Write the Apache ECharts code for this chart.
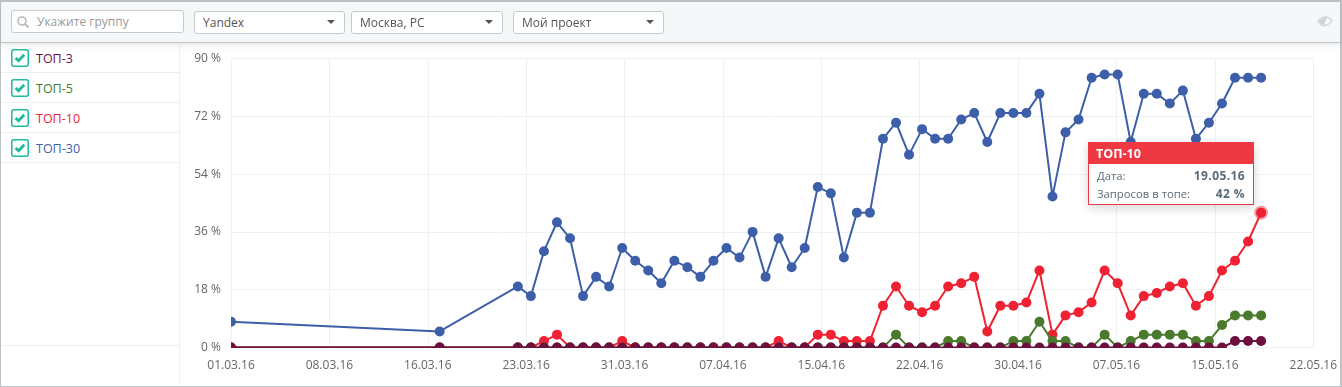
<!DOCTYPE html>
<html>
<head>
<meta charset="utf-8">
<title>ТОП</title>
<script src="https://cdn.jsdelivr.net/npm/echarts@6/dist/echarts.min.js"></script>
<style>
html, body { margin: 0; padding: 0; background: #fff; }
body { width: 1342px; height: 387px; overflow: hidden; font-family: "Open Sans", sans-serif; font-size: 12px; color: #555; }
.frame { position: absolute; left: 0; top: 0; width: 1342px; height: 387px; box-sizing: border-box; border: solid #bcc2c6; border-width: 2px 2px 1px 1px; }
.toolbar { position: absolute; left: 1px; top: 2px; width: 1339px; height: 40px; background: #f5f8f9; border-bottom: 1px solid #bfc5c8; box-shadow: 0 2px 6px rgba(0,0,0,.10); z-index: 2; }
.field { position: absolute; top: 9px; height: 21px; background: #fff; border: 1px solid #c6cbce; border-radius: 3px; line-height: 21px; padding-left: 8px; color: #555; }
.field.search { top: 8px; color: #9a9a9a; padding-left: 25px; }
.field svg { position: absolute; left: 4px; top: 4px; }
.field i { position: absolute; right: 9px; top: 8px; width: 0; height: 0; border-left: 4px solid transparent; border-right: 4px solid transparent; border-top: 4px solid #555; }
.eye { position: absolute; left: 1316px; top: 13px; }
.sidebar { position: absolute; left: 1px; top: 43px; width: 178px; height: 342px; border-right: 1px solid #eef0f2; }
.row { position: relative; height: 29px; border-bottom: 1px solid #eceff1; line-height: 31px; padding-left: 35px; font-size: 12.5px; }
.row svg { position: absolute; left: 10px; top: 6px; }
.sidebar .foot { position: absolute; left: 0; right: 0; top: 302px; border-top: 1px solid #eceff1; }
#chart { position: absolute; left: 180px; top: 44px; width: 1160px; height: 341px; }
</style>
</head>
<body>
<div class="frame"></div>
<div class="toolbar">
  <div class="field search" style="left:10px;width:146px">
    <svg width="14" height="14" viewBox="0 0 14 14"><circle cx="6" cy="6" r="4" fill="none" stroke="#b5b9bb" stroke-width="1.6"/><line x1="9" y1="9" x2="12.5" y2="12.5" stroke="#b5b9bb" stroke-width="1.8"/></svg>
    Укажите группу
  </div>
  <div class="field" style="left:193px;width:141px">Yandex<i></i></div>
  <div class="field" style="left:350px;width:142px">Москва, РС<i></i></div>
  <div class="field" style="left:512px;width:141px">Мой проект<i></i></div>
  <svg class="eye" width="16" height="12" viewBox="0 0 16 12"><path d="M0.8 6 C4 1.5 11 0.5 15.2 5.5 C12 10.5 7 11.5 4 10 Z" fill="none" stroke="#ccd2d5" stroke-width="1.2"/><path d="M1.5 6 L10.5 0.5 L6.5 11 Z" fill="#ccd2d5"/></svg>
</div>
<div class="sidebar" id="sidebar"><div class="foot"></div></div>
<div id="chart"></div>
<script>
// значения с графика, по дням
const dates = ['01.03.16','17.03.16','23.03.16','24.03.16','25.03.16','26.03.16','27.03.16','28.03.16','29.03.16','30.03.16','31.03.16',
  '01.04.16','02.04.16','03.04.16','04.04.16','05.04.16','06.04.16','07.04.16','08.04.16','09.04.16','10.04.16','11.04.16','12.04.16','13.04.16','14.04.16','15.04.16',
  '16.04.16','17.04.16','18.04.16','19.04.16','20.04.16','21.04.16','22.04.16','23.04.16','24.04.16','25.04.16','26.04.16','27.04.16','28.04.16','29.04.16','30.04.16',
  '01.05.16','02.05.16','03.05.16','04.05.16','05.05.16','06.05.16','07.05.16','08.05.16','09.05.16','10.05.16','11.05.16','12.05.16','13.05.16','14.05.16','15.05.16',
  '16.05.16','17.05.16','18.05.16','19.05.16']
const top30 = [8,5,19,16,30,39,34,16,22,19,31,27,24,20,27,25,22,27,31,28,36,22,34,25,31,50,48,28,42,42,65,70,60,68,65,65,71,73,64,73,73,73,79,47,67,71,84,85,85,64,79,79,76,80,65,70,76,84,84,84]
const top10 = [0,0,0,0,2,4,0,0,0,0,2,0,0,0,0,0,0,0,0,0,0,0,2,0,0,4,4,2,2,2,13,19,13,11,13,19,20,22,5,13,13,14,24,4,10,11,14,24,20,10,16,17,19,20,13,16,24,27,33,42]
const top5 = [0,0,0,0,0,0,0,0,0,0,0,0,0,0,0,0,0,0,0,0,0,0,0,0,0,0,0,0,0,0,0,4,0,0,0,2,2,0,0,0,2,2,8,2,2,0,0,4,0,2,4,4,4,4,2,2,7,10,10,10]
const top3 = [0,0,0,0,0,0,0,0,0,0,0,0,0,0,0,0,0,0,0,0,0,0,0,0,0,0,0,0,0,0,0,0,0,0,0,0,0,0,0,0,0,0,0,0,0,0,0,0,0,0,0,0,0,0,0,0,0,2,2,2]
const tickLabels = ['01.03.16','08.03.16','16.03.16','23.03.16','31.03.16','07.04.16','15.04.16','22.04.16','30.04.16','07.05.16','15.05.16','22.05.16']
const seriesNames = ['ТОП-3','ТОП-5','ТОП-10','ТОП-30']
const seriesColors = ['#6d0f3f','#4a7a2d','#ee2232','#3d5fa9']

const axisDays = 83
const tickStep = axisDays / (tickLabels.length - 1)

// дата -> номер дня от начала оси
const dayOf = (s) => {
  const p = s.split('.')
  return (Date.UTC(2000 + +p[2], p[1] - 1, +p[0]) - Date.UTC(2016, 2, 1)) / 86400000
}
const pairs = (vals) => vals.map((v, i) => [dayOf(dates[i]), v])

// левая колонка
const sidebar = document.getElementById('sidebar')
seriesNames.forEach((name, i) => {
  const row = document.createElement('div')
  row.className = 'row'
  row.style.color = seriesColors[i]
  row.innerHTML = '<svg width="18" height="18" viewBox="0 0 18 18"><rect x="0.75" y="0.75" width="16.5" height="16.5" rx="2" fill="#fff" stroke="#1fbb9c" stroke-width="1.5"/>' +
    '<path d="M4.6 9 L7.6 11.8 L13.2 5.8" fill="none" stroke="#1fbb9c" stroke-width="2.8"/></svg>' + name
  sidebar.insertBefore(row, sidebar.lastElementChild)
})

const mychart = echarts.init(document.getElementById('chart'))

const lineSeries = (name, vals, color, extra) => Object.assign({
  name: name,
  type: 'line',
  data: pairs(vals),
  symbol: 'circle',
  symbolSize: 10,
  showAllSymbol: true,
  clip: true,
  animation: false,
  lineStyle: { color: color, width: 2 },
  itemStyle: { color: color },
  emphasis: { disabled: true }
}, extra)

const tooltipHtml = '<div style="width:164px;border:1px solid #ee3842;background:#fff;font-family:\'Open Sans\',sans-serif">' +
  '<div style="background:#ee3842;color:#fff;font-weight:700;font-size:12.5px;line-height:21px;height:21px;padding-left:7px">ТОП-10</div>' +
  '<div style="padding:3px 8px 0 8px;color:#5a6b78;font-size:11.3px;line-height:18px;height:37px">' +
  '<div style="display:flex;justify-content:space-between"><span>Дата:</span><b style="font-size:12px;letter-spacing:.4px">19.05.16</b></div>' +
  '<div style="display:flex;justify-content:space-between"><span>Запросов в топе:</span><b style="font-size:12px;letter-spacing:.4px">42 %</b></div>' +
  '</div></div>'

mychart.setOption({
  animation: false,
  grid: { left: 51, top: 14.5, width: 1083, height: 289, containLabel: false },
  tooltip: {
    trigger: 'item',
    alwaysShowContent: true,
    transitionDuration: 0,
    padding: 0,
    borderWidth: 0,
    backgroundColor: 'transparent',
    extraCssText: 'box-shadow:0 3px 10px rgba(0,0,0,.16);border-radius:0',
    position: [908, 98],
    formatter: () => tooltipHtml
  },
  xAxis: {
    type: 'value',
    min: 0,
    max: axisDays,
    interval: tickStep,
    axisLine: { show: false },
    axisTick: { show: false },
    splitLine: { show: true, lineStyle: { color: '#eef0f2', width: 1 } },
    axisLabel: {
      color: '#666',
      fontFamily: 'Open Sans',
      fontSize: 12,
      margin: 12,
      showMinLabel: true,
      showMaxLabel: true,
      formatter: (val) => tickLabels[Math.round(val / tickStep)]
    }
  },
  yAxis: {
    type: 'value',
    min: 0,
    max: 90,
    interval: 18,
    axisLine: { show: false },
    axisTick: { show: false },
    splitLine: { show: true, lineStyle: { color: '#eef0f2', width: 1 } },
    axisLabel: { color: '#666', fontFamily: 'Open Sans', fontSize: 12, margin: 10, formatter: '{value} %' }
  },
  // точки на краю оси обрезаны, как в оригинале
  graphic: [
    { type: 'rect', z: 50, silent: true, shape: { x: 44, y: 0, width: 7, height: 312 }, style: { fill: '#fff' } },
    { type: 'rect', z: 50, silent: true, shape: { x: 44, y: 304, width: 1100, height: 7 }, style: { fill: '#fff' } }
  ],
  series: [
    lineSeries(seriesNames[3], top30, seriesColors[3], { z: 2 }),
    lineSeries(seriesNames[2], top10, seriesColors[2], {
      z: 3,
      markPoint: {
        silent: true,
        symbol: 'circle',
        symbolSize: 14,
        label: { show: false },
        itemStyle: { color: 'rgba(238,34,50,.45)' },
        data: [{ coord: pairs(top10)[top10.length - 1] }]
      }
    }),
    lineSeries(seriesNames[1], top5, seriesColors[1], { z: 4 }),
    lineSeries(seriesNames[0], top3, seriesColors[0], { z: 5 })
  ]
})

mychart.dispatchAction({ type: 'showTip', seriesIndex: 1, dataIndex: top10.length - 1 })
</script>
</body>
</html>
